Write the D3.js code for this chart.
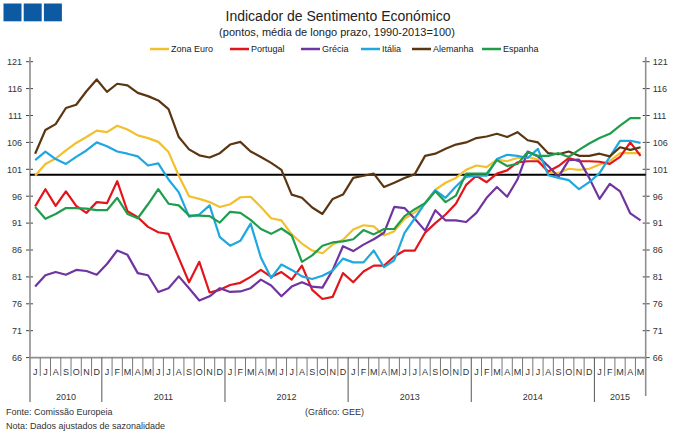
<!DOCTYPE html>
<html>
<head>
<meta charset="utf-8">
<script src="https://cdn.jsdelivr.net/npm/d3@7"></script>
<style>
  html, body { margin: 0; padding: 0; background: #fff; }
  svg { display: block; font-family: "Liberation Sans", Arial, sans-serif; }
</style>
</head>
<body>
<svg id="chart" width="680" height="437"></svg>
<script>
// ---- data ----
const monthLabels = ["J","J","A","S","O","N","D",
  "J","F","M","A","M","J","J","A","S","O","N","D",
  "J","F","M","A","M","J","J","A","S","O","N","D",
  "J","F","M","A","M","J","J","A","S","O","N","D",
  "J","F","M","A","M","J","J","A","S","O","N","D",
  "J","F","M","A","M"];
const years = ["2010","2011","2012","2013","2014","2015"];
const yearMonths = [7, 12, 12, 12, 12, 5];
const yTicks = [66,71,76,81,86,91,96,101,106,111,116,121];

const zonaEuro = [99.8,102.0,103.0,104.5,105.9,107.0,108.2,107.9,109.1,108.4,107.3,106.8,106.1,104.2,99.8,96.0,
  95.5,94.9,94.0,94.5,95.8,95.9,94.0,91.9,91.5,88.9,87.2,85.9,85.4,87.0,
  87.9,89.8,90.6,90.4,88.7,89.5,91.8,93.0,94.7,97.2,98.5,99.4,100.9,101.7,101.4,
  102.8,102.5,103.1,103.3,102.8,100.4,100.3,101.1,100.9,101.1,101.9,102.5,104.0,104.0,104.0];
const portugal = [94.1,97.3,94.2,96.9,94.2,92.9,94.9,94.7,98.8,93.2,92.1,90.3,89.3,89.0,84.5,80.0,
  83.8,78.1,78.6,79.5,79.9,81.0,82.3,81.0,81.9,80.5,83.1,78.6,76.9,77.3,
  81.7,80.0,82.0,83.1,83.1,84.8,85.9,85.9,89.2,91.0,92.6,94.6,98.1,99.8,98.6,
  100.2,100.8,102.3,102.5,102.5,100.6,101.6,103.1,102.5,102.5,102.4,102.0,103.3,106.0,103.5];
const grecia = [79.2,81.3,81.9,81.4,82.3,82.1,81.4,83.4,85.9,85.1,81.7,81.3,78.2,78.9,81.1,78.9,
  76.6,77.4,78.9,78.2,78.3,78.9,80.5,79.4,77.4,79.2,80.0,79.2,79.0,82.3,
  86.7,85.8,87.0,88.0,89.2,94.0,93.8,91.8,89.6,93.4,91.5,91.5,91.2,92.9,95.7,
  97.7,95.9,99.1,104.3,103.4,101.6,99.6,102.7,102.8,99.4,95.5,98.3,96.9,92.8,91.5];
const italia = [102.7,104.3,102.9,102.0,103.3,104.5,106.0,105.3,104.3,103.9,103.4,101.7,102.1,99.1,96.7,92.2,
  92.6,94.3,88.4,86.8,87.7,90.9,84.6,80.8,83.3,82.3,81.1,80.6,81.2,82.2,
  84.4,83.7,83.7,85.9,82.8,84.1,89.2,91.9,94.7,97.1,95.7,97.8,99.6,99.8,99.8,
  102.9,103.7,103.5,103.1,104.8,99.9,99.4,99.0,97.3,98.6,100.3,103.3,106.3,106.3,105.9];
const alemanha = [103.9,108.3,109.4,112.4,113.0,115.5,117.7,115.4,116.9,116.6,115.2,114.6,113.8,112.2,107.0,104.7,
  103.6,103.2,104.0,105.6,106.1,104.3,103.3,102.2,100.9,96.3,95.7,93.9,92.7,95.5,
  96.3,99.4,99.8,100.2,97.7,98.5,99.4,100.1,103.5,103.9,104.8,105.6,106.0,106.8,107.1,
  107.6,107.0,107.9,106.4,106.0,104.0,103.8,104.3,103.5,103.5,103.9,103.4,105.1,104.6,105.1];
const espanha = [94.0,91.8,92.7,93.8,93.8,93.7,93.4,93.4,95.7,92.7,91.9,94.5,97.3,94.6,94.3,92.4,
  92.4,92.3,91.1,93.1,92.9,91.6,89.9,89.0,90.0,88.7,83.8,85.0,86.8,87.4,
  87.6,88.0,89.7,88.9,89.9,89.9,92.3,93.6,94.7,96.9,94.9,96.1,100.2,100.2,100.2,
  102.7,101.6,102.0,104.2,103.5,103.5,104.0,103.3,104.6,105.8,106.8,107.6,109.1,110.5,110.5];

const seriesNames = ["Zona Euro","Portugal","Grécia","Itália","Alemanha","Espanha"];
const seriesValues = [zonaEuro, portugal, grecia, italia, alemanha, espanha];
const seriesColors = ["#f2c02e","#e3151a","#7034a0","#1fa8e0","#5b3612","#1e9e4c"];
const refLevel = 100;

// ---- layout ----
const svg = d3.select("#chart");
const L = 30, R = 645.7, T = 61.7, B = 357.6;
const axisColor = "#8f8f8f";

const x = d3.scaleBand().domain(d3.range(monthLabels.length)).range([L, R]).padding(0);
const bw = x.bandwidth();
const cx = i => x(i) + bw / 2;
const y = d3.scaleLinear().domain([66, 121]).range([B, T]);

// logo
svg.selectAll("rect.logo").data([0,1,2]).join("rect")
  .attr("x", d => 3.5 + d * 20.2).attr("y", 3.5).attr("width", 18).attr("height", 17.8)
  .attr("fill", "#0b5aa2");

// titles
svg.append("text").attr("x", 338).attr("y", 21).attr("text-anchor", "middle")
  .attr("font-size", 14).attr("fill", "#222").text("Indicador de Sentimento Económico");
svg.append("text").attr("x", 337).attr("y", 36).attr("text-anchor", "middle")
  .attr("font-size", 11).attr("fill", "#222").text("(pontos, média de longo prazo, 1990-2013=100)");

// legend
const legendX = [150, 230, 301, 361, 412, 482];
const lg = svg.append("g");
seriesNames.forEach((n, k) => {
  lg.append("line").attr("x1", legendX[k]).attr("x2", legendX[k] + 19)
    .attr("y1", 49).attr("y2", 49).attr("stroke", seriesColors[k]).attr("stroke-width", 2.5);
  lg.append("text").attr("x", legendX[k] + 21).attr("y", 52.2).attr("font-size", 9)
    .attr("fill", "#222").text(n);
});

// axes
const yAxisL = d3.axisLeft(y).tickValues(yTicks).tickSize(0).tickPadding(8);
const yAxisR = d3.axisRight(y).tickValues(yTicks).tickSize(0).tickPadding(7);
const gL = svg.append("g").attr("transform", `translate(${L},0)`).call(yAxisL);
const gR = svg.append("g").attr("transform", `translate(${R},0)`).call(yAxisR);
[gL, gR].forEach(g => {
  g.select(".domain").remove();
  g.selectAll("text").attr("font-size", 9).attr("fill", "#333")
    .attr("font-family", "'Liberation Sans', Arial, sans-serif");
});
// tick marks crossing the axes
svg.selectAll("line.ytickL").data(yTicks).join("line")
  .attr("x1", L - 4).attr("x2", L + 3).attr("y1", d => y(d)).attr("y2", d => y(d))
  .attr("stroke", "#444").attr("stroke-width", 1);
svg.selectAll("line.ytickR").data(yTicks).join("line")
  .attr("x1", R - 3).attr("x2", R + 4).attr("y1", d => y(d)).attr("y2", d => y(d))
  .attr("stroke", "#444").attr("stroke-width", 1);

// vertical axis lines
svg.append("line").attr("x1", L).attr("x2", L).attr("y1", 57).attr("y2", 402)
  .attr("stroke", axisColor).attr("stroke-width", 1.6);
svg.append("line").attr("x1", R).attr("x2", R).attr("y1", 57).attr("y2", 396)
  .attr("stroke", axisColor).attr("stroke-width", 1.6);
// bottom axis line
svg.append("line").attr("x1", L).attr("x2", R).attr("y1", B).attr("y2", B)
  .attr("stroke", axisColor).attr("stroke-width", 1.6);

// month separators
const yearStarts = [];
{ let acc = 0; yearMonths.forEach(m => { yearStarts.push(acc); acc += m; }); }
d3.range(1, monthLabels.length).forEach(i => {
  const isYear = yearStarts.includes(i);
  svg.append("line").attr("x1", x(i)).attr("x2", x(i))
    .attr("y1", B).attr("y2", isYear ? 402 : 376)
    .attr("stroke", isYear ? "#555" : "#777").attr("stroke-width", 1);
});
svg.selectAll("text.mon").data(monthLabels).join("text")
  .attr("x", (d, i) => cx(i)).attr("y", 374.5).attr("text-anchor", "middle")
  .attr("font-size", 9).attr("fill", "#333").text(d => d);
svg.selectAll("text.yr").data(years).join("text")
  .attr("x", (d, k) => (x(yearStarts[k]) + x(yearStarts[k] + yearMonths[k] - 1) + bw) / 2)
  .attr("y", 400).attr("text-anchor", "middle")
  .attr("font-size", 9).attr("fill", "#333").text(d => d);

// reference line at 100
svg.append("line").attr("x1", L).attr("x2", R).attr("y1", y(refLevel)).attr("y2", y(refLevel))
  .attr("stroke", "#000").attr("stroke-width", 2);

// series lines
const line = d3.line().x((d, i) => cx(i)).y(d => y(d));
seriesValues.forEach((vals, k) => {
  svg.append("path").datum(vals).attr("d", line)
    .attr("fill", "none").attr("stroke", seriesColors[k]).attr("stroke-width", 2.2)
    .attr("stroke-linejoin", "round");
});

// footer
svg.append("text").attr("x", 6).attr("y", 415).attr("font-size", 9).attr("fill", "#333")
  .text("Fonte: Comissão Europeia");
svg.append("text").attr("x", 6).attr("y", 429).attr("font-size", 9).attr("fill", "#333")
  .text("Nota: Dados ajustados de sazonalidade");
svg.append("text").attr("x", 305).attr("y", 415).attr("font-size", 9).attr("fill", "#333")
  .text("(Gráfico: GEE)");
</script>
</body>
</html>
